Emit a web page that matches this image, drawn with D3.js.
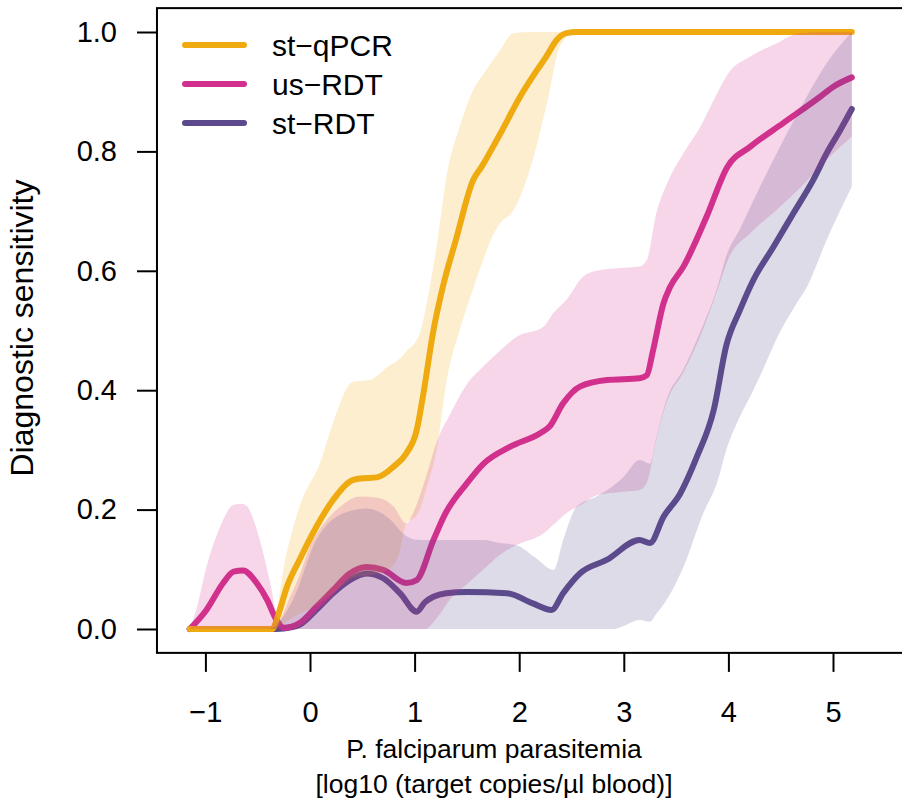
<!DOCTYPE html>
<html>
<head>
<meta charset="utf-8">
<script src="https://cdn.jsdelivr.net/npm/d3@7"></script>
<style>
  html, body { margin: 0; padding: 0; background: #fff; }
  svg { display: block; font-family: "Liberation Sans", Arial, Helvetica, sans-serif; }
</style>
</head>
<body>
<svg id="chart" width="902" height="805"></svg>
<script>
// ---------------- data ----------------
const seriesNames = ["st\u2212qPCR", "us\u2212RDT", "st\u2212RDT"];
const seriesColors = ["#EFAA10", "#D1308E", "#5C4A8C"];

const xTicks = [-1, 0, 1, 2, 3, 4, 5];
const yTicks = [0, 0.2, 0.4, 0.6, 0.8, 1.0];

// st-qPCR mean curve
const qpcrX = [-1.15, -0.36, -0.3, -0.22, -0.1, 0.06, 0.22, 0.38, 0.48, 0.64, 0.8, 0.92, 1.02, 1.08, 1.18, 1.27, 1.4, 1.56, 1.64, 1.82, 2.01, 2.17, 2.26, 2.36, 2.45, 2.55, 5.18];
const qpcrY = [0, 0, 0.026, 0.071, 0.116, 0.171, 0.216, 0.247, 0.252, 0.254, 0.272, 0.294, 0.333, 0.39, 0.5, 0.573, 0.655, 0.752, 0.774, 0.83, 0.892, 0.936, 0.959, 0.987, 0.998, 1, 1];
// st-qPCR band
const qpcrBandX = [-1.15, -0.36, -0.3, -0.25, -0.16, -0.1, 0.1, 0.22, 0.41, 0.57, 0.75, 0.86, 0.92, 1.02, 1.05, 1.12, 1.21, 1.31, 1.43, 1.56, 1.66, 1.75, 1.82, 1.94, 2.13, 2.28, 2.39, 2.52, 5.18];
const qpcrBandHi = [0, 0, 0.05, 0.104, 0.17, 0.205, 0.28, 0.345, 0.414, 0.417, 0.44, 0.453, 0.465, 0.484, 0.495, 0.55, 0.64, 0.763, 0.841, 0.903, 0.93, 0.953, 0.97, 0.998, 1, 1, 1, 1, 1];
const qpcrBandLo = [0, 0, 0.005, 0.01, 0.02, 0.025, 0.045, 0.06, 0.085, 0.09, 0.1, 0.13, 0.177, 0.19, 0.2, 0.24, 0.3, 0.42, 0.5, 0.57, 0.62, 0.66, 0.68, 0.7, 0.786, 0.892, 0.976, 0.998, 1];

// us-RDT mean curve
const usX = [-1.15, -0.99, -0.83, -0.73, -0.64, -0.51, -0.41, -0.32, -0.25, -0.1, 0.06, 0.22, 0.38, 0.54, 0.7, 0.92, 1.02, 1.18, 1.29, 1.5, 1.66, 1.91, 2.2, 2.29, 2.42, 2.58, 2.84, 3.15, 3.22, 3.28, 3.38, 3.44, 3.57, 3.79, 3.99, 4.21, 4.52, 4.88, 5.0, 5.18];
const usY = [0, 0.032, 0.077, 0.096, 0.098, 0.077, 0.049, 0.015, 0.002, 0.01, 0.037, 0.065, 0.093, 0.104, 0.099, 0.077, 0.082, 0.149, 0.192, 0.244, 0.277, 0.305, 0.328, 0.339, 0.378, 0.406, 0.417, 0.42, 0.425, 0.467, 0.546, 0.572, 0.607, 0.69, 0.774, 0.808, 0.847, 0.892, 0.908, 0.924];
// us-RDT band
const usBandX = [-1.15, -1.08, -0.99, -0.86, -0.73, -0.65, -0.6, -0.48, -0.38, -0.3, -0.2, -0.1, 0.0, 0.15, 0.29, 0.48, 0.65, 0.8, 0.92, 1.0, 1.1, 1.22, 1.34, 1.5, 1.66, 1.82, 1.98, 2.23, 2.33, 2.45, 2.61, 2.74, 3.0, 3.15, 3.22, 3.31, 3.41, 3.57, 3.73, 3.9, 4.0, 4.21, 4.45, 4.68, 4.94, 5.18];
const usBandHi = [0, 0.037, 0.104, 0.171, 0.208, 0.21, 0.205, 0.149, 0.077, 0.015, 0.05, 0.09, 0.138, 0.18, 0.205, 0.222, 0.22, 0.205, 0.177, 0.2, 0.25, 0.317, 0.36, 0.41, 0.44, 0.467, 0.49, 0.506, 0.53, 0.551, 0.59, 0.6, 0.605, 0.607, 0.618, 0.696, 0.745, 0.797, 0.841, 0.9, 0.931, 0.959, 0.98, 0.998, 1, 1];
const usBandLo = [0, 0, 0, 0, 0, 0, 0, 0, 0, 0, 0, 0, 0, 0, 0, 0, 0, 0, 0, 0, 0, 0.02, 0.05, 0.075, 0.1, 0.125, 0.141, 0.16, 0.175, 0.194, 0.21, 0.224, 0.23, 0.233, 0.245, 0.317, 0.38, 0.43, 0.49, 0.57, 0.62, 0.663, 0.7, 0.738, 0.786, 0.825];

// st-RDT mean curve
const stX = [-1.15, -0.4, -0.25, -0.1, 0.06, 0.22, 0.38, 0.54, 0.7, 0.86, 1.02, 1.1, 1.18, 1.3, 1.5, 1.88, 2.13, 2.31, 2.42, 2.58, 2.84, 3.15, 3.25, 3.38, 3.54, 3.7, 3.86, 3.98, 4.11, 4.24, 4.43, 4.62, 4.81, 4.94, 5.07, 5.18];
const stY = [0, 0, 0.001, 0.007, 0.032, 0.06, 0.082, 0.093, 0.085, 0.06, 0.029, 0.045, 0.054, 0.06, 0.062, 0.06, 0.043, 0.032, 0.06, 0.093, 0.116, 0.149, 0.144, 0.188, 0.227, 0.289, 0.367, 0.475, 0.534, 0.585, 0.64, 0.696, 0.752, 0.797, 0.836, 0.871];
// st-RDT band
const stBandX = [-1.15, -0.4, -0.16, 0.06, 0.32, 0.54, 0.77, 0.89, 1.0, 1.1, 1.4, 1.66, 1.82, 1.98, 2.15, 2.33, 2.42, 2.55, 2.74, 2.9, 3.0, 3.15, 3.25, 3.31, 3.41, 3.57, 3.76, 3.89, 3.98, 4.11, 4.21, 4.3, 4.5, 4.65, 4.75, 4.94, 5.18];
const stBandHi = [0, 0, 0.05, 0.149, 0.194, 0.202, 0.183, 0.16, 0.15, 0.149, 0.149, 0.149, 0.144, 0.14, 0.12, 0.099, 0.149, 0.205, 0.222, 0.24, 0.255, 0.283, 0.277, 0.32, 0.385, 0.435, 0.51, 0.57, 0.625, 0.67, 0.707, 0.74, 0.81, 0.86, 0.892, 0.948, 1];
const stBandLo = [0, 0, 0, 0, 0, 0, 0, 0, 0, 0, 0, 0, 0, 0, 0, 0, 0, 0, 0, 0, 0.005, 0.015, 0.012, 0.025, 0.049, 0.104, 0.194, 0.244, 0.3, 0.356, 0.39, 0.423, 0.5, 0.545, 0.573, 0.652, 0.741];

// ---------------- layout ----------------
const svg = d3.select("#chart");
const x = d3.scaleLinear().domain([0, 5]).range([310, 833]);
const y = d3.scaleLinear().domain([0, 1]).range([629, 32]);
const frameLeft = x(-1.463), frameTop = y(1.04), frameBottom = y(-0.04), frameRight = 1000;

const zip = (xs, ys) => xs.map((v, i) => [v, ys[i]]);
const line = d3.line().x(d => x(d[0])).y(d => y(d[1])).curve(d3.curveMonotoneX);
const area = d3.area().x(d => x(d[0])).y0(d => y(d[1])).y1(d => y(d[2])).curve(d3.curveMonotoneX);

const means = [zip(qpcrX, qpcrY), zip(usX, usY), zip(stX, stY)];
const bands = [
  qpcrBandX.map((v, i) => [v, qpcrBandLo[i], qpcrBandHi[i]]),
  usBandX.map((v, i) => [v, usBandLo[i], usBandHi[i]]),
  stBandX.map((v, i) => [v, stBandLo[i], stBandHi[i]])
];

// lines (drawn first, translucent bands overlay them)
const lineOrder = [2, 1, 0];
svg.append("g").selectAll("path").data(lineOrder).join("path")
  .attr("d", i => line(means[i]))
  .attr("fill", "none")
  .attr("stroke", i => seriesColors[i])
  .attr("stroke-width", 6)
  .attr("stroke-linecap", "round")
  .attr("stroke-linejoin", "round");

svg.append("g").selectAll("path").data([0, 1, 2]).join("path")
  .attr("d", i => area(bands[i]))
  .attr("fill", i => seriesColors[i])
  .attr("fill-opacity", 0.2)
  .attr("stroke", "none");

// frame
svg.append("rect")
  .attr("x", frameLeft).attr("y", frameTop)
  .attr("width", frameRight - frameLeft).attr("height", frameBottom - frameTop)
  .attr("fill", "none").attr("stroke", "#000").attr("stroke-width", 2);

// axes
const yAxis = svg.append("g").attr("transform", `translate(${frameLeft},0)`)
  .call(d3.axisLeft(y).tickValues(yTicks).tickFormat(d3.format(".1f")).tickSize(20).tickPadding(20));
const xAxis = svg.append("g").attr("transform", `translate(0,${frameBottom})`)
  .call(d3.axisBottom(x).tickValues(xTicks).tickFormat(d3.format("d")).tickSize(19).tickPadding(30));
[yAxis, xAxis].forEach(g => {
  g.select(".domain").remove();
  g.selectAll(".tick line").attr("stroke", "#000").attr("stroke-width", 2);
  g.selectAll(".tick text").attr("fill", "#000").style("font-size", "29px")
    .style("font-family", '"Liberation Sans", Arial, Helvetica, sans-serif');
});

// axis titles
svg.append("text")
  .attr("transform", "translate(33,328) rotate(-90)")
  .attr("text-anchor", "middle")
  .style("font-size", "32px")
  .text("Diagnostic sensitivity");
svg.append("text")
  .attr("x", 494).attr("y", 758)
  .attr("text-anchor", "middle")
  .style("font-size", "26.5px")
  .text("P. falciparum parasitemia");
svg.append("text")
  .attr("x", 494).attr("y", 793)
  .attr("text-anchor", "middle")
  .style("font-size", "26.5px")
  .text("[log10 (target copies/\u00b5l blood)]");

// legend
const legend = svg.append("g");
seriesNames.forEach((name, i) => {
  const ly = 45 + i * 39;
  legend.append("line")
    .attr("x1", 185).attr("x2", 244).attr("y1", ly).attr("y2", ly)
    .attr("stroke", seriesColors[i]).attr("stroke-width", 6).attr("stroke-linecap", "round");
  legend.append("text")
    .attr("x", 272).attr("y", ly + 11)
    .style("font-size", "30px")
    .text(name);
});
</script>
</body>
</html>
